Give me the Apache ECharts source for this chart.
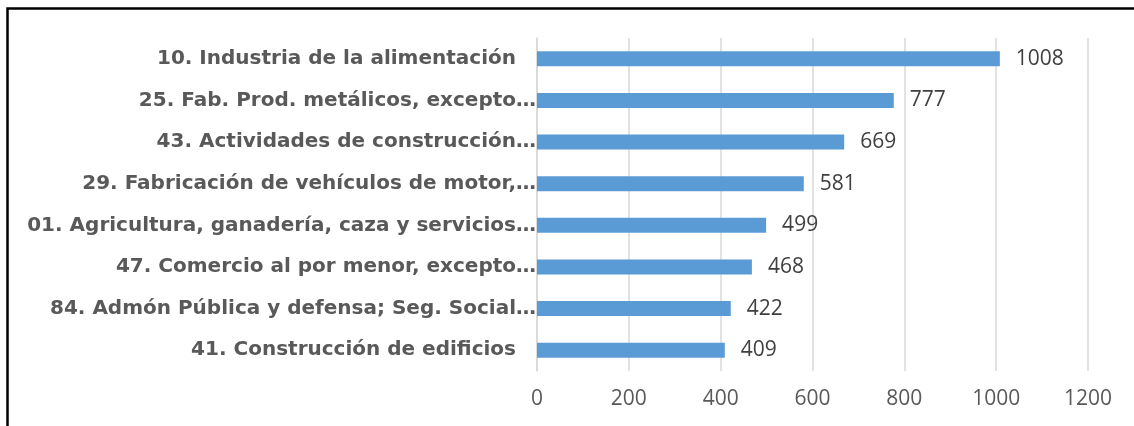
<!DOCTYPE html>
<html>

<head>
  <meta charset="utf-8">
  <title>Bar Chart</title>
  <style>
    body {
      margin: 0;
      background: #fff;
    }

    #barchart {
      width: 1134px;
      height: 426px;
    }
  </style>
  <script src="https://cdn.jsdelivr.net/npm/echarts@6/dist/echarts.min.js"></script>
</head>

<body>
  <div id="barchart"></div>

  <script>
    // categorías (de arriba abajo) y valores
    var categories = [
      '10. Industria de la alimentación',
      '25. Fab. Prod. metálicos, excepto…',
      '43. Actividades de construcción…',
      '29. Fabricación de vehículos de motor,…',
      '01. Agricultura, ganadería, caza y servicios…',
      '47. Comercio al por menor, excepto…',
      '84. Admón Pública y defensa; Seg. Social…',
      '41. Construcción de edificios'
    ];
    var values = [1008, 777, 669, 581, 499, 468, 422, 409];
    var axisMax = 1200;
    var axisStep = 200;

    var myChart = echarts.init(document.getElementById('barchart'));

    var labelFont = {
      color: '#595959',
      fontFamily: 'DejaVu Sans',
      fontWeight: 'bold',
      fontSize: 20
    };

    var option = {
      animation: false,
      grid: {
        left: 537,
        right: 46,
        top: 38,
        bottom: 55
      },
      xAxis: {
        type: 'value',
        min: 0,
        max: axisMax,
        interval: axisStep,
        axisLine: { show: false },
        axisTick: { show: false },
        axisLabel: {
          color: '#595959',
          fontFamily: 'Open Sans',
          fontSize: 21,
          margin: 18,
          formatter: function (v) { return String(v); }
        },
        splitLine: {
          lineStyle: { color: '#d9d9d9', width: 1.5 }
        }
      },
      yAxis: {
        type: 'category',
        inverse: true,
        data: categories,
        axisLine: { lineStyle: { color: '#d9d9d9', width: 1.5 } },
        axisTick: { show: false },
        axisLabel: {
          margin: 1,
          formatter: function (value) {
            // las etiquetas completas quedan algo separadas del eje
            return value.slice(-1) === '…' ? '{t|' + value + '}' : '{p|' + value + '}';
          },
          rich: {
            t: labelFont,
            p: Object.assign({ padding: [0, 20, 0, 0] }, labelFont)
          }
        }
      },
      series: [{
        type: 'bar',
        data: values,
        barWidth: 15,
        itemStyle: { color: '#5b9bd5' },
        label: {
          show: true,
          position: 'right',
          distance: 16,
          color: '#404040',
          fontFamily: 'Open Sans',
          fontSize: 21
        }
      }],
      graphic: [{
        type: 'polyline',
        shape: { points: [[7.5, 430], [7.5, 8.5], [1140, 8.5]] },
        style: { stroke: '#000', lineWidth: 2.5, fill: null }
      }]
    };

    myChart.setOption(option);
  </script>
</body>

</html>
